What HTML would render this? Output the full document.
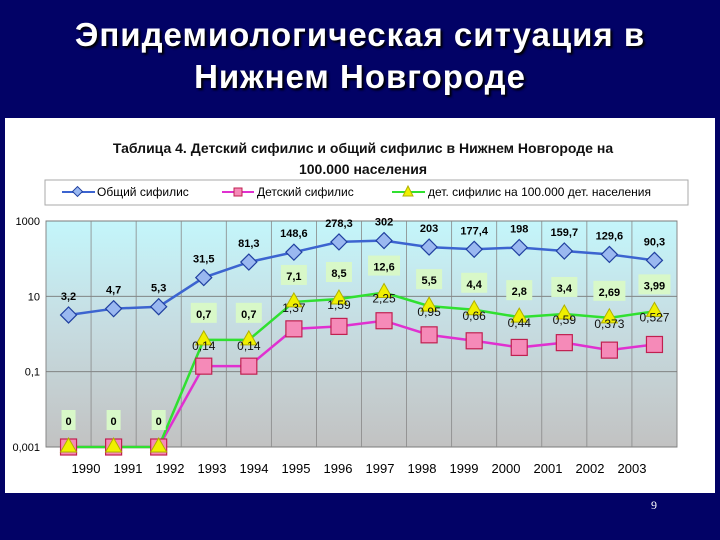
<!DOCTYPE html>
<html><head><meta charset="utf-8"><style>
body{margin:0;width:720px;height:540px;background:#020266;overflow:hidden;font-family:"Liberation Sans",sans-serif}
#title{position:absolute;left:0;top:14px;width:720px;text-align:center;color:#fff;font-size:33px;font-weight:bold;line-height:42px;letter-spacing:1px;text-shadow:2px 2px 2px #000}
#panel{position:absolute;left:5px;top:118px;width:710px;height:375px;background:#fff}
#num{position:absolute;left:651px;top:498px;color:#fff;font-size:12px;font-family:"Liberation Serif",serif}
</style></head><body>
<div id="title">Эпидемиологическая ситуация в<br>Нижнем Новгороде</div>
<div id="panel"></div>
<div id="num">9</div>
<svg id="chart" width="720" height="540" style="position:absolute;left:0;top:0">
<defs><linearGradient id="bg" x1="0" y1="0" x2="0" y2="1"><stop offset="0" stop-color="#c4f6fb"/><stop offset="0.45" stop-color="#c6dde2"/><stop offset="1" stop-color="#c2c2c2"/></linearGradient></defs>
<text x="363" y="153" text-anchor="middle" font-size="14" font-weight="bold" fill="#111">Таблица 4. Детский сифилис и общий сифилис в Нижнем Новгороде на</text>
<text x="363" y="174" text-anchor="middle" font-size="14" font-weight="bold" fill="#111">100.000 населения</text>
<g>
<rect x="45" y="180" width="643" height="25" fill="#fff" stroke="#aaa"/>
<line x1="62" y1="192" x2="95" y2="192" stroke="#3c64d0" stroke-width="2"/><rect x="74" y="188" width="7" height="7" transform="rotate(45 77.5 191.5)" fill="#9ab8f0" stroke="#2040a0"/>
<text x="97" y="196" font-size="12">Общий сифилис</text>
<line x1="222" y1="192" x2="254" y2="192" stroke="#e030d0" stroke-width="2"/><rect x="234" y="188" width="8" height="8" fill="#f58ab8" stroke="#c02050"/>
<text x="257" y="196" font-size="12">Детский сифилис</text>
<line x1="392" y1="192" x2="425" y2="192" stroke="#30e030" stroke-width="2"/><polygon points="408,186 413,196 403,196" fill="#f0f000" stroke="#b0b000"/>
<text x="428" y="196" font-size="12">дет. сифилис на 100.000 дет. населения</text>
</g>
<rect x="46" y="221" width="631" height="226" fill="url(#bg)" stroke="#888"/>
<g id="grid"></g><g id="series"></g><g id="labels"></g>
</svg>
<script>
const years=["1990","1991","1992","1993","1994","1995","1996","1997","1998","1999","2000","2001","2002","2003"];
const totalVals=[3.2,4.7,5.3,31.5,81.3,148.6,278.3,302,203,177.4,198,159.7,129.6,90.3];
const childVals=[0,0,0,0.14,0.14,1.37,1.59,2.25,0.95,0.66,0.44,0.59,0.373,0.527];
const childPer100kVals=[0,0,0,0.7,0.7,7.1,8.5,12.6,5.5,4.4,2.8,3.4,2.69,3.99];
const yTicks=[1000,10,0.1,0.001];
const yTickLabels=["1000","10","0,1","0,001"];
const NS="http://www.w3.org/2000/svg";
const X0=46,W=631,Y0=221,H=226;
function xs(i){return X0+W/years.length*(i+0.5);}
function xl(i){return 86+42*i;}
function ys(v){const lv=Math.log10(Math.max(v,0.001));return Y0+(3-lv)/6*H;}
function fmt(v){return String(v).replace('.',',');}
function mk(tag,attrs,parent){const e=document.createElementNS(NS,tag);for(const k in attrs)e.setAttribute(k,attrs[k]);parent.appendChild(e);return e;}
const grid=document.getElementById('grid'),ser=document.getElementById('series'),lab=document.getElementById('labels');
yTicks.forEach((t,i)=>{
 const l=mk('line',{x1:X0,x2:X0+W,y1:ys(t),y2:ys(t),stroke:'#777','stroke-width':0.8},grid);
 
 
 const tx=mk('text',{x:40,y:ys(t)+4,'text-anchor':'end','font-size':11},grid);tx.textContent=yTickLabels[i];
 
 
});
years.forEach((y,i)=>{
 const xg=X0+W/years.length*i;
 if(i>0){const l=mk('line',{x1:xg,x2:xg,y1:Y0,y2:Y0+H,stroke:'#888','stroke-width':0.8},grid);
 
 }
 const t=mk('text',{x:xl(i),y:473,'text-anchor':'middle','font-size':13},grid);t.textContent=y;
 
 
});
function line(vals,color,name){const p=mk('polyline',{points:vals.map((v,i)=>xs(i)+','+ys(v)).join(' '),fill:'none',stroke:color,'stroke-width':2.5},ser);
 
 }
line(totalVals,'#3c64d0','total-line');
line(childVals,'#e030d0','child-line');
line(childPer100kVals,'#30e030','child-per100k-line');
totalVals.forEach((v,i)=>{const x=xs(i),y=ys(v);
 const m=mk('polygon',{points:`${x},${y-8} ${x+8},${y} ${x},${y+8} ${x-8},${y}`,fill:'#9ab8f0',stroke:'#2040a0','stroke-width':1.2},ser);
 
 
 const t=mk('text',{x:x,y:y-15,'text-anchor':'middle','font-size':11,'font-weight':'bold'},lab);t.textContent=fmt(v);
 
 
});
childVals.forEach((v,i)=>{const x=xs(i),y=ys(v);
 const m=mk('rect',{x:x-8,y:y-8,width:16,height:16,fill:'#f58ab8',stroke:'#c02050','stroke-width':1.2},ser);
 
 
});
childPer100kVals.forEach((v,i)=>{const x=xs(i),y=ys(v);
 const m=mk('polygon',{points:`${x},${y-9} ${x+8},${y+5} ${x-8},${y+5}`,fill:'#f0f000',stroke:'#b0b000'},ser);
 
 
 const s=fmt(v),w=s.length*6+8;
 const r=mk('rect',{x:x-w/2,y:y-37,width:w,height:20,fill:'#d8f8c8'},lab);
 
 
 const t=mk('text',{x:x,y:y-22,'text-anchor':'middle','font-size':11,'font-weight':'bold'},lab);t.textContent=s;
 
 
 if(childVals[i]>0){const t2=mk('text',{x:x,y:y+10,'text-anchor':'middle','font-size':12,fill:'#111'},lab);t2.textContent=fmt(childVals[i]);
 
 }
});
</script>
</body></html>
